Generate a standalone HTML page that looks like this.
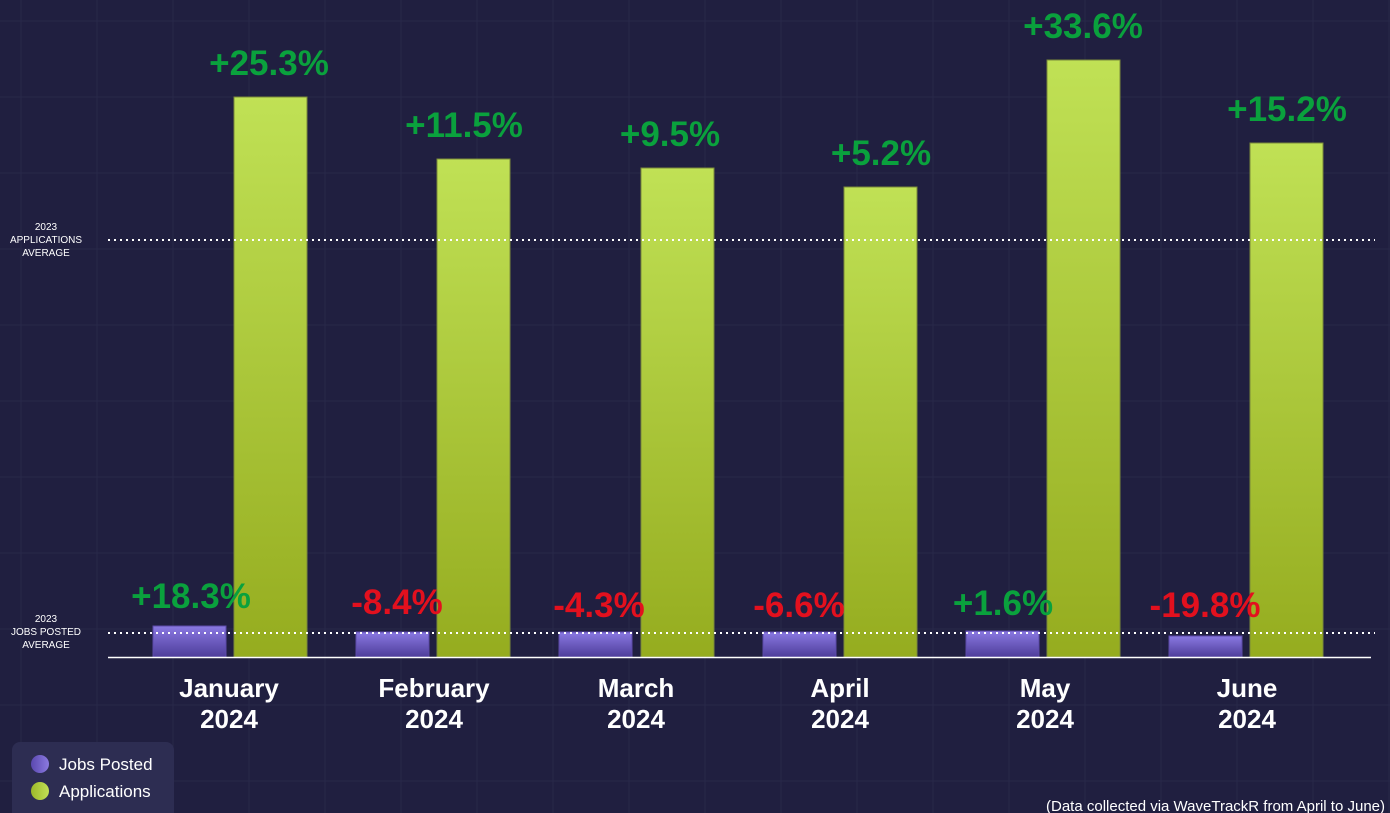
<!DOCTYPE html>
<html><head><meta charset="utf-8"><style>
html,body{margin:0;padding:0;background:#201f40;}
svg{display:block;font-family:"Liberation Sans",sans-serif;}
</style></head><body>
<svg width="1390" height="813" viewBox="0 0 1390 813" xmlns="http://www.w3.org/2000/svg">
<defs>
<linearGradient id="g" x1="0" y1="0" x2="0" y2="1"><stop offset="0" stop-color="#c0e155"/><stop offset="1" stop-color="#95ac1f"/></linearGradient>
<linearGradient id="p" x1="0" y1="0" x2="0" y2="1"><stop offset="0" stop-color="#8a79e2"/><stop offset="1" stop-color="#4e3d9a"/></linearGradient>
<linearGradient id="lp" x1="0" y1="0" x2="1" y2="0"><stop offset="0" stop-color="#5a48b0"/><stop offset="1" stop-color="#8b7ae0"/></linearGradient>
<linearGradient id="lg" x1="0" y1="0" x2="1" y2="0"><stop offset="0" stop-color="#9cb82a"/><stop offset="1" stop-color="#c2e056"/></linearGradient>
</defs>
<rect width="1390" height="813" fill="#201f40"/>
<g stroke="#282849" stroke-width="1">
<line x1="21" y1="0" x2="21" y2="813"/><line x1="97" y1="0" x2="97" y2="813"/><line x1="173" y1="0" x2="173" y2="813"/><line x1="249" y1="0" x2="249" y2="813"/><line x1="325" y1="0" x2="325" y2="813"/><line x1="401" y1="0" x2="401" y2="813"/><line x1="477" y1="0" x2="477" y2="813"/><line x1="553" y1="0" x2="553" y2="813"/><line x1="629" y1="0" x2="629" y2="813"/><line x1="705" y1="0" x2="705" y2="813"/><line x1="781" y1="0" x2="781" y2="813"/><line x1="857" y1="0" x2="857" y2="813"/><line x1="933" y1="0" x2="933" y2="813"/><line x1="1009" y1="0" x2="1009" y2="813"/><line x1="1085" y1="0" x2="1085" y2="813"/><line x1="1161" y1="0" x2="1161" y2="813"/><line x1="1237" y1="0" x2="1237" y2="813"/><line x1="1313" y1="0" x2="1313" y2="813"/><line x1="1389" y1="0" x2="1389" y2="813"/>
<line x1="0" y1="21" x2="1390" y2="21"/><line x1="0" y1="97" x2="1390" y2="97"/><line x1="0" y1="173" x2="1390" y2="173"/><line x1="0" y1="249" x2="1390" y2="249"/><line x1="0" y1="325" x2="1390" y2="325"/><line x1="0" y1="401" x2="1390" y2="401"/><line x1="0" y1="477" x2="1390" y2="477"/><line x1="0" y1="553" x2="1390" y2="553"/><line x1="0" y1="629" x2="1390" y2="629"/><line x1="0" y1="705" x2="1390" y2="705"/><line x1="0" y1="781" x2="1390" y2="781"/>
</g>
<g stroke="#7a8a3a" stroke-width="1">
<rect x="234" y="97" width="73" height="560" fill="url(#g)"/>
<rect x="437" y="159" width="73" height="498" fill="url(#g)"/>
<rect x="641" y="168" width="73" height="489" fill="url(#g)"/>
<rect x="844" y="187" width="73" height="470" fill="url(#g)"/>
<rect x="1047" y="60" width="73" height="597" fill="url(#g)"/>
<rect x="1250" y="143" width="73" height="514" fill="url(#g)"/>
</g>
<g stroke="#5b4aa8" stroke-width="1">
<rect x="153" y="626" width="73" height="31" fill="url(#p)"/>
<rect x="356" y="632" width="73" height="25" fill="url(#p)"/>
<rect x="559" y="632" width="73" height="25" fill="url(#p)"/>
<rect x="763" y="632" width="73" height="25" fill="url(#p)"/>
<rect x="966" y="631" width="73" height="26" fill="url(#p)"/>
<rect x="1169" y="636" width="73" height="21" fill="url(#p)"/>
</g>
<line x1="108" y1="240" x2="1375" y2="240" stroke="#fff" stroke-width="2" stroke-dasharray="2 4"/>
<line x1="108" y1="633" x2="1375" y2="633" stroke="#fff" stroke-width="2" stroke-dasharray="2 4"/>
<line x1="108" y1="657.5" x2="1371" y2="657.5" stroke="#fff" stroke-width="1.5"/>
<g fill="#fff" font-size="10" text-anchor="middle">
<text x="46" y="230">2023</text><text x="46" y="243">APPLICATIONS</text><text x="46" y="256">AVERAGE</text>
<text x="46" y="622">2023</text><text x="46" y="635">JOBS POSTED</text><text x="46" y="648">AVERAGE</text>
</g>
<g font-size="35" font-weight="bold" text-anchor="middle" fill="#0aa13d">
<text x="269" y="75">+25.3%</text>
<text x="464" y="137">+11.5%</text>
<text x="670" y="146">+9.5%</text>
<text x="881" y="165">+5.2%</text>
<text x="1083" y="38">+33.6%</text>
<text x="1287" y="121">+15.2%</text>
<text x="191" y="608">+18.3%</text>
<text x="1003" y="615">+1.6%</text>
</g>
<g font-size="35" font-weight="bold" text-anchor="middle" fill="#e3101e">
<text x="397" y="614">-8.4%</text>
<text x="599" y="617">-4.3%</text>
<text x="799" y="617">-6.6%</text>
<text x="1205" y="617">-19.8%</text>
</g>
<g font-size="26" font-weight="bold" text-anchor="middle" fill="#fff">
<text x="229" y="697">January</text><text x="229" y="728">2024</text>
<text x="434" y="697">February</text><text x="434" y="728">2024</text>
<text x="636" y="697">March</text><text x="636" y="728">2024</text>
<text x="840" y="697">April</text><text x="840" y="728">2024</text>
<text x="1045" y="697">May</text><text x="1045" y="728">2024</text>
<text x="1247" y="697">June</text><text x="1247" y="728">2024</text>
</g>
<rect x="12" y="742" width="162" height="80" rx="8" fill="#2d2d52"/>
<circle cx="40" cy="764" r="9" fill="url(#lp)"/>
<circle cx="40" cy="791" r="9" fill="url(#lg)"/>
<g fill="#fff" font-size="17"><text x="59" y="770">Jobs Posted</text><text x="59" y="797">Applications</text></g>
<text x="1046" y="811" fill="#fff" font-size="15">(Data collected via WaveTrackR from April to June)</text>
</svg>
</body></html>
